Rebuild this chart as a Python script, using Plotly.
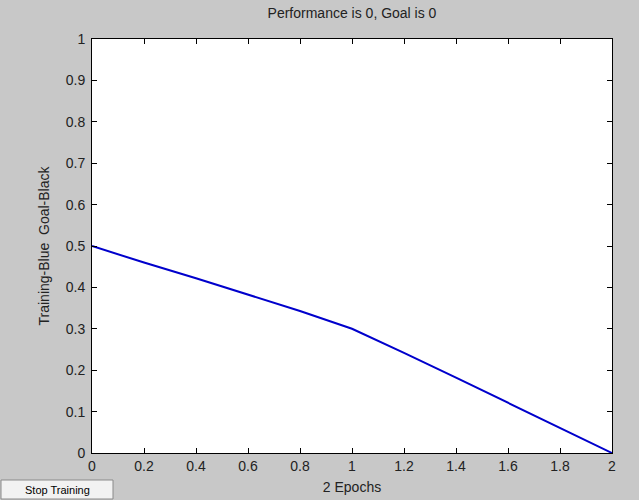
import plotly.graph_objects as go

epochs = [0, 0.2, 0.4, 0.6, 0.8, 1.0, 1.2, 1.4, 1.6, 1.8, 2.0]
performance = [0.5, 0.46, 0.422, 0.383, 0.343, 0.30, 0.242, 0.182, 0.122, 0.062, 0.0]
xticks = [0, 0.2, 0.4, 0.6, 0.8, 1, 1.2, 1.4, 1.6, 1.8, 2]
yticks = [0, 0.1, 0.2, 0.3, 0.4, 0.5, 0.6, 0.7, 0.8, 0.9, 1]

W, H = 639, 500
L, R, T, B = 92, 27, 39, 47
pw, ph = W - L - R, H - T - B

def px(x):
    return (x - L) / pw

def py(y):
    return (H - B - y) / ph

fig = go.Figure()
fig.add_trace(go.Scatter(x=epochs, y=performance, mode="lines",
                         line=dict(color="#0000cc", width=2), showlegend=False))

font = dict(family="Liberation Sans, Arial, sans-serif", size=14, color="#222")
axis_common = dict(showline=True, linecolor="black", linewidth=1, mirror="ticks",
                   ticks="inside", ticklen=5, tickcolor="black", showgrid=False,
                   zeroline=False, tickfont=font, automargin=False)
fig.update_layout(
    width=W, height=H,
    margin=dict(l=L, r=R, t=T, b=B),
    paper_bgcolor="#c8c8c8", plot_bgcolor="white",
    font=font,
    title=dict(text="Performance is 0, Goal is 0", x=(L + pw / 2) / W, xanchor="center",
               y=1 - 13 / H, yanchor="middle", font=font),
    xaxis=dict(range=[0, 2], tickvals=xticks, ticktext=[f"{v:g}" for v in xticks],
               ticklabelstandoff=0,
               title=dict(text="2 Epochs", standoff=9, font=font), **axis_common),
    yaxis=dict(range=[0, 1], tickvals=yticks, ticktext=[f"{v:g}" for v in yticks],
               ticklabelstandoff=3,
               title=dict(text="Training-Blue  Goal-Black", standoff=12, font=font), **axis_common),
)

# Stop Training button
fig.add_shape(type="rect", xref="paper", yref="paper",
              x0=px(1), x1=px(113), y0=py(499), y1=py(480),
              fillcolor="#f2f2f2", line=dict(color="#8a8a8a", width=1), layer="above")
fig.add_annotation(xref="paper", yref="paper", x=px(57), y=py(489.5),
                   xanchor="center", yanchor="middle",
                   text="Stop Training", showarrow=False,
                   font=dict(family="Liberation Sans, Arial, sans-serif", size=11, color="black"))

fig.write_html("out.html")
